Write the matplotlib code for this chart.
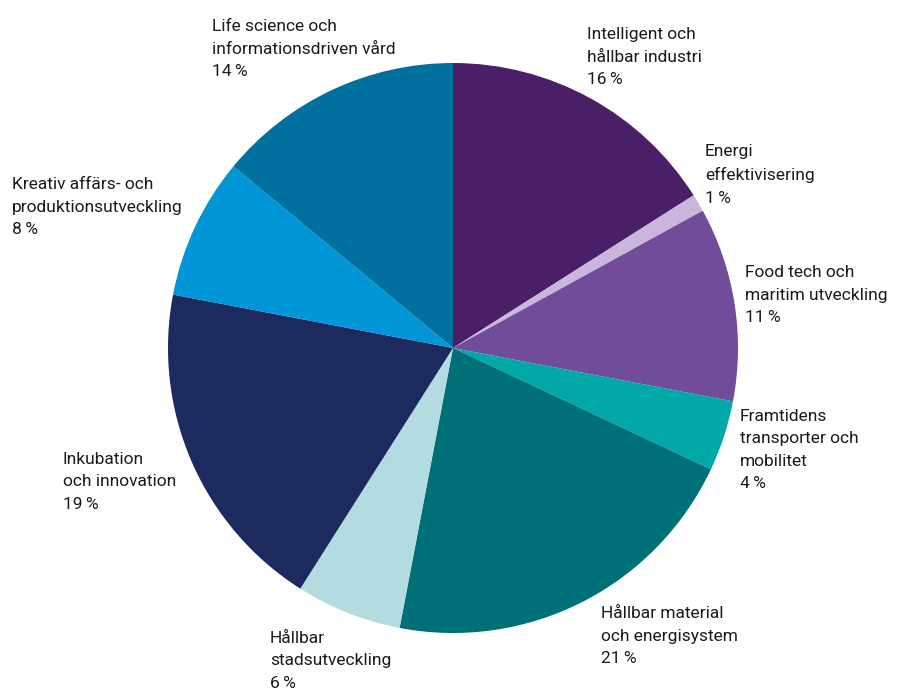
import matplotlib
matplotlib.use("Agg")
import matplotlib.pyplot as plt

categories = [
    "Intelligent och\nhållbar industri",
    "Energi\neffektivisering",
    "Food tech och\nmaritim utveckling",
    "Framtidens\ntransporter och\nmobilitet",
    "Hållbar material\noch energisystem",
    "Hållbar\nstadsutveckling",
    "Inkubation\noch innovation",
    "Kreativ affärs- och\nproduktionsutveckling",
    "Life science och\ninformationsdriven vård",
]
values = [16, 1, 11, 4, 21, 6, 19, 8, 14]
colors = ["#4a1f68", "#c9b6dd", "#704c9a", "#00a8a8", "#007078",
          "#b2dcdf", "#1c2a60", "#0096d8", "#00719e"]
# label anchor positions (pixels from top-left): left x, vertical centre of block
label_pos = [(587, 57), (705, 175), (745, 295), (740, 450), (601, 636),
             (270, 661), (63, 482), (12, 207), (212, 49)]

plt.rcParams['font.family'] = ['Roboto', 'DejaVu Sans']

W, H = 899, 691
fig = plt.figure(figsize=(8.99, 6.91), dpi=100)
ax = fig.add_axes([0, 0, 1, 1])

ax.pie(values, colors=colors, startangle=90, counterclock=False,
       center=(453, H - 348), radius=285, frame=True,
       wedgeprops=dict(linewidth=0))
ax.set_xlim(0, W)
ax.set_ylim(0, H)
ax.set_aspect('equal')
ax.axis('off')

for cat, v, (x, y) in zip(categories, values, label_pos):
    ax.text(x, H - y, f"{cat}\n{v}\u2009%", ha='left', va='center',
            fontsize=12.5, linespacing=1.62, color='#1a1a1a')

fig.savefig("out.png", dpi=100)
